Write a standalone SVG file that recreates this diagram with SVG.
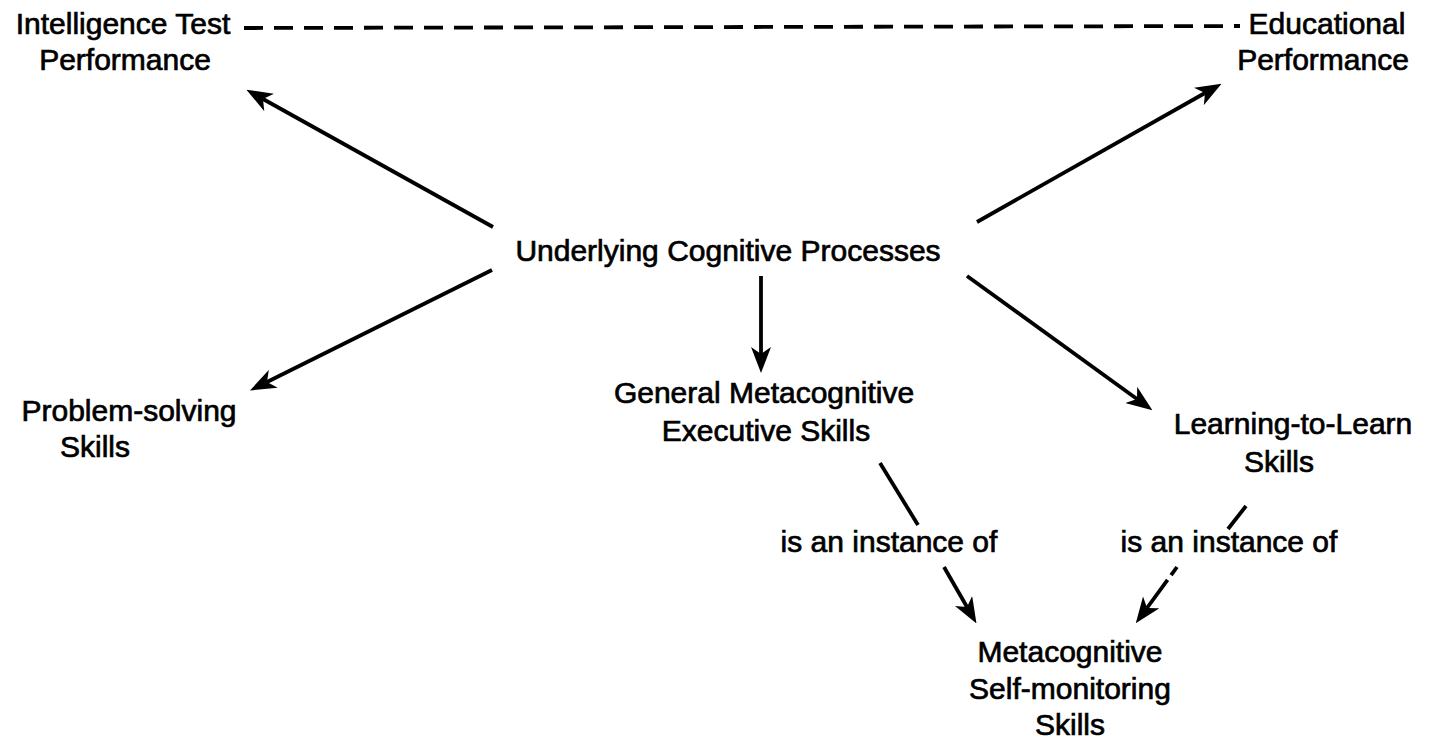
<svg xmlns="http://www.w3.org/2000/svg" width="1430" height="740" viewBox="0 0 1430 740">
<style>
text{font-family:"Liberation Sans",Arial,sans-serif;font-size:30px;fill:#000;stroke:#000;stroke-width:0.7;text-anchor:middle}
.c{stroke:#000;stroke-width:3.8;fill:none}
.d{stroke:#000;stroke-width:3.8;fill:none;stroke-dasharray:19 11}
</style>
<defs>
<marker id="ah" viewBox="0 0 26 20" refX="7" refY="10" markerWidth="26" markerHeight="20" orient="auto" markerUnits="userSpaceOnUse">
<path d="M0,0 L26,10 L0,20 L7,10 Z" fill="#000"/>
</marker>
</defs>
<rect width="1430" height="740" fill="#fff"/>
<g id="connectors">
<line class="d" x1="244" y1="28" x2="1240" y2="26"/>
<line class="c" x1="493" y1="227" x2="263" y2="99" marker-end="url(#ah)"/>
<line class="c" x1="977" y1="222" x2="1205" y2="93" marker-end="url(#ah)"/>
<line class="c" x1="492" y1="270" x2="267" y2="382" marker-end="url(#ah)"/>
<line class="c" x1="761" y1="276" x2="761" y2="354" marker-end="url(#ah)"/>
<line class="c" x1="967" y1="276" x2="1137" y2="399" marker-end="url(#ah)"/>
<line class="c" x1="880" y1="463" x2="918" y2="525"/>
<line class="c" x1="944" y1="567" x2="967" y2="607" marker-end="url(#ah)"/>
<line class="c" x1="1246" y1="506" x2="1228" y2="529"/>
<line class="c" x1="1177" y1="567" x2="1147" y2="608" stroke-dasharray="10 6 100" marker-end="url(#ah)"/>
</g>
<g id="n-intelligence"><text x="123" y="34">Intelligence Test</text><text x="125" y="70">Performance</text></g>
<g id="n-educational"><text x="1327" y="34">Educational</text><text x="1323" y="70">Performance</text></g>
<g id="n-underlying"><text x="728" y="261">Underlying Cognitive Processes</text></g>
<g id="n-general"><text x="764" y="403">General Metacognitive</text><text x="766" y="441">Executive Skills</text></g>
<g id="n-problem"><text x="129" y="421">Problem-solving</text><text x="95" y="457">Skills</text></g>
<g id="n-learning"><text x="1293" y="434">Learning-to-Learn</text><text x="1279" y="472">Skills</text></g>
<g id="labels"><text x="889" y="552">is an instance of</text><text x="1229" y="552">is an instance of</text></g>
<g id="n-selfmon"><text x="1070" y="662">Metacognitive</text><text x="1070" y="699">Self-monitoring</text><text x="1070" y="735">Skills</text></g>
</svg>
